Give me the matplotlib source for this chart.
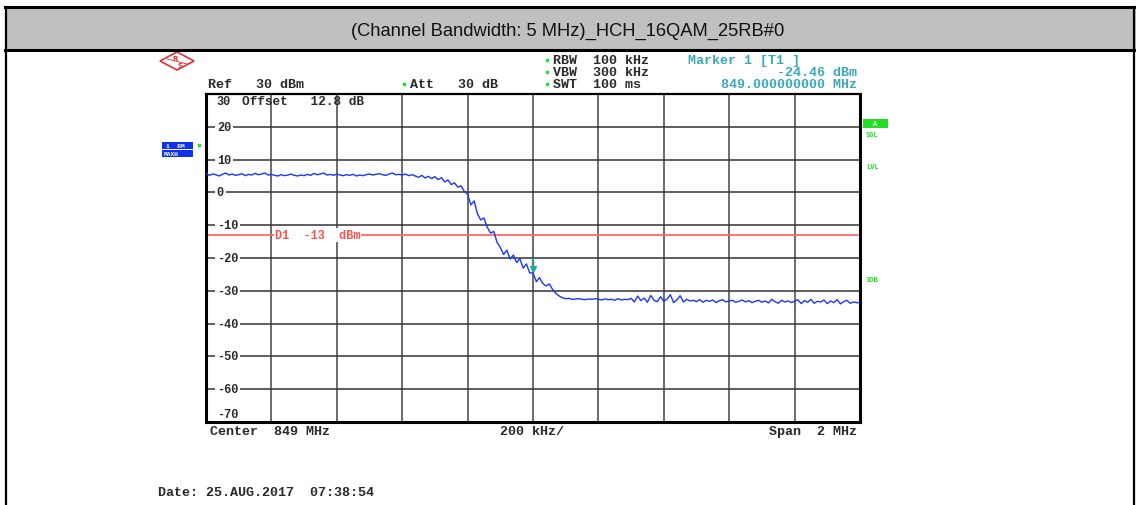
import numpy as np
import matplotlib
matplotlib.use('Agg')
import matplotlib.pyplot as plt
from matplotlib.patches import Rectangle, Polygon

# trace (dBm), sweep from 848 MHz to 850 MHz
level = [
    5.8, 5.2, 5.6, 5.4, 5.0, 5.5, 5.9, 5.3, 5.6, 5.2,
    5.4, 5.7, 5.1, 5.5, 5.3, 5.8, 5.4, 5.6, 5.9, 5.3,
    5.5, 5.2, 5.0, 5.4, 5.1, 5.3, 5.6, 5.2, 5.0, 5.3,
    5.1, 5.5, 5.2, 5.8, 5.4, 5.6, 5.9, 5.3, 5.5, 5.2,
    5.6, 5.3, 5.1, 5.4, 5.2, 5.5, 5.0, 5.3, 5.1, 5.4,
    5.6, 5.3, 5.5, 5.7, 5.4, 5.2, 5.6, 5.9, 5.4, 5.5,
    5.3, 5.6, 5.1, 5.4, 5.0, 4.6, 5.2, 4.4, 4.9, 4.2,
    4.8, 3.9, 4.5, 3.2, 3.8, 2.4, 2.9, 1.6, 2.0, 0.3,
    -0.5, -3.8, -2.6, -6.5, -8.4, -7.8, -10.6, -12.4, -11.9, -15.2,
    -16.8, -18.9, -17.6, -20.3, -19.1, -21.4, -20.2, -23.1, -21.8, -24.6,
    -24.5, -27.2, -26.0, -27.8, -28.5, -27.9, -29.6, -30.8, -31.6, -32.1,
    -32.4, -32.3, -32.6, -32.5, -32.4, -32.6, -32.7, -32.5, -32.6, -32.4,
    -32.6, -32.8, -32.5, -32.7, -32.6, -32.9, -32.4, -32.8, -32.6, -32.7,
    -32.3, -33.4, -31.6, -33.0, -32.2, -33.5, -31.4, -32.9, -33.3, -31.8,
    -33.2, -32.5, -31.2, -33.6, -32.8, -31.5, -33.4, -32.6, -33.1, -32.9,
    -33.3, -32.7, -33.5, -32.9, -33.2, -32.8, -33.6, -33.0, -32.7, -33.4,
    -33.1, -32.9, -33.5, -33.2, -32.8, -33.4, -33.0, -33.6, -33.2, -32.9,
    -33.5, -33.1, -33.7, -32.6, -33.3, -33.8, -32.9, -33.4, -33.1, -33.6,
    -33.2, -32.7, -33.9, -33.0, -33.5, -32.6, -33.8, -33.2, -33.4, -32.8,
    -33.9, -33.1, -33.6, -32.7, -34.0, -33.3, -32.9, -33.8, -33.4, -33.6, -33.7,
]
freq = np.linspace(848.0, 850.0, len(level))

ref_level = 30
y_ticks = [20, 10, 0, -10, -20, -30, -40, -50, -60]
display_line = -13
marker_freq = 849.0
marker_level = -24.46
title = '(Channel Bandwidth: 5 MHz)_HCH_16QAM_25RB#0'

mono = 'Liberation Mono'
teal = '#3aa8b8'
green = '#22dd22'
ink = '#2a2a2a'

fig = plt.figure(figsize=(11.36, 5.06), dpi=100)

# page / table cell in pixel coords
bg = fig.add_axes([0, 0, 1, 1])
bg.set_xlim(0, 1136)
bg.set_ylim(506, 0)
bg.axis('off')
bg.add_patch(Rectangle((6, 8), 1130, 43, facecolor='#c0c0c0', edgecolor='none'))
bg.plot([5, 1136], [8, 8], color='k', lw=2.2)
bg.plot([5, 1136], [51, 51], color='k', lw=2.2)
bg.plot([6, 6], [8, 506], color='k', lw=1.6)
bg.plot([1134, 1134], [8, 506], color='k', lw=1.6)
bg.text(568, 31, title, ha='center', va='center', fontsize=13.2,
        family='Liberation Sans', color='#111111')

# R&S logo
bg.add_patch(Polygon([[160, 62], [177, 53], [194, 62], [177, 71]], closed=True,
                     fill=False, edgecolor='#e03030', lw=1.2))
bg.text(175, 59, 'R', color='#e03030', fontsize=5, ha='center', va='center', weight='bold')
bg.text(180, 66, 'S', color='#e03030', fontsize=5, ha='center', va='center', weight='bold')
bg.plot([167, 187], [60, 65], color='#e03030', lw=0.6)

hdr = dict(family=mono, weight='bold', fontsize=9.6, va='center', ha='left', color=ink)
bg.text(208, 85, 'Ref   30 dBm', **hdr)
bg.text(410, 85, 'Att   30 dB', **hdr)
bg.text(553, 61, 'RBW  100 kHz', **hdr)
bg.text(553, 73, 'VBW  300 kHz', **hdr)
bg.text(553, 85, 'SWT  100 ms', **hdr)
for yy in (61, 73, 85):
    bg.plot(547, yy, 's', color=green, ms=1.5)
bg.plot(404, 85, 's', color=green, ms=1.5)
bg.text(688, 61, 'Marker 1 [T1 ]', **{**hdr, 'color': teal})
bg.text(857, 73, '-24.46 dBm', **{**hdr, 'color': teal, 'ha': 'right'})
bg.text(857, 85, '849.000000000 MHz', **{**hdr, 'color': teal, 'ha': 'right'})

bg.text(210, 432, 'Center  849 MHz', **hdr)
bg.text(500, 432, '200 kHz/', **hdr)
bg.text(857, 432, 'Span  2 MHz', **{**hdr, 'ha': 'right'})
bg.text(158, 493, 'Date: 25.AUG.2017  07:38:54', **hdr)

# trace info boxes
bg.add_patch(Rectangle((162, 143), 31, 7, facecolor='#1030f0', edgecolor='none'))
bg.add_patch(Rectangle((162, 151), 31, 7, facecolor='#1030f0', edgecolor='none'))
bg.text(166, 146.5, '1  RM', color='white', fontsize=4.5, va='center', family=mono, weight='bold')
bg.text(164, 154.5, 'MAXH', color='white', fontsize=4.5, va='center', family=mono, weight='bold')
bg.plot(199, 146, 's', color=green, ms=1.5)
bg.add_patch(Rectangle((863, 120), 25, 9, facecolor=green, edgecolor='none'))
bg.text(875, 124.5, 'A', color='white', fontsize=5, ha='center', va='center', family=mono, weight='bold')
side = dict(color=green, fontsize=5, ha='left', va='center', family=mono, weight='bold')
bg.text(866, 135, 'SGL', **side)
bg.text(866, 167, 'LVL', **side)
bg.text(866, 280, '3DB', **side)

# spectrum screen
ax = fig.add_axes([206 / 1136, 1 - 423 / 506, 654 / 1136, 328 / 506])
ax.set_xlim(freq[0], freq[-1])
ax.set_ylim(ref_level - 100, ref_level)
ax.set_xticks([])
ax.set_yticks([])
for s in ax.spines.values():
    s.set_linewidth(2.2)
    s.set_color('black')
ax.spines['top'].set_linewidth(1.6)

for f in np.linspace(freq[0], freq[-1], 11)[1:-1]:
    ax.axvline(f, color='#444444', lw=1.1, zorder=1)
for v in y_ticks:
    ax.axhline(v, color='#333333', lw=1.1, zorder=1)
    ax.text(848.033, v, str(v), family=mono, weight='bold', fontsize=8.6,
            va='center', ha='left', color=ink, zorder=2,
            bbox=dict(facecolor='white', edgecolor='none', pad=1.2))
ax.text(848.033, -67.5, '-70', family=mono, weight='bold', fontsize=8.6,
        va='center', ha='left', color=ink)
ax.text(848.033, 27.8, '30', family=mono, weight='bold', fontsize=8.6,
        va='center', ha='left', color=ink)
ax.text(848.11, 28.0, 'Offset   12.8 dB', family=mono, weight='bold', fontsize=9.2,
        va='center', ha='left', color=ink)

ax.axhline(display_line, color='#ff6a6a', lw=1.3, zorder=2)
ax.text(848.21, display_line, 'D1  -13  dBm', family=mono, weight='bold', fontsize=8.6,
        color='#ff5050', va='center', ha='left', zorder=3,
        bbox=dict(facecolor='white', edgecolor='none', pad=0.5))

ax.plot(freq, level, color='#1a35ff', lw=1.0, zorder=4)
ax.plot(marker_freq, marker_level + 1.2, 'v', color='#20a8a8', ms=4, zorder=5)
ax.text(marker_freq, marker_level + 3.8, '1', color='#20a8a8', fontsize=5,
        ha='center', va='center', family=mono, weight='bold', zorder=5)

fig.savefig('out.png', dpi=100)
